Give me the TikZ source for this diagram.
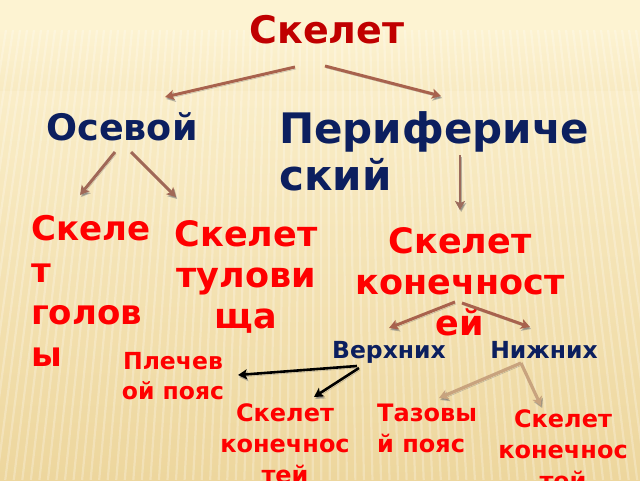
\documentclass[tikz,border=0pt]{standalone}
\usepackage{fontspec}
\setmainfont{DejaVu Sans}
\usetikzlibrary{arrows.meta,calc}
\definecolor{navy}{HTML}{0C1F5F}
\definecolor{dred}{HTML}{C00000}
\definecolor{brred}{HTML}{FF0000}
\definecolor{arrowbr}{HTML}{A8624D}
\definecolor{arrowtan}{HTML}{C8A37E}
\definecolor{bgtop}{HTML}{FDF3D2}
\definecolor{bgbot}{HTML}{EDD69D}
\tikzset{
  lbl/.style={inner sep=0pt, anchor=base, font=\bfseries},
  redtxt/.style={lbl, text=brred, align=center},
  navytxt/.style={lbl, text=navy},
  shadowed/.style={preaction={draw=black!55, opacity=0.5, transform canvas={shift={(1.2pt,-2pt)}}}},
  brarrow/.style={shadowed, draw=arrowbr, line width=3pt, -{Stealth[length=9pt,width=10pt,inset=2pt]}},
  tanarrow/.style={shadowed, draw=arrowtan, line width=3.2pt, -{Stealth[length=9pt,width=10pt,inset=2pt]}},
  blkarrow/.style={shadowed, draw=black, line width=2.6pt, -{Stealth[length=9pt,width=10pt,inset=2pt]}},
}
\begin{document}
\begin{tikzpicture}[x=1pt,y=-1pt]
\useasboundingbox (0,0) rectangle (640,480);
\shade[top color=bgtop, bottom color=bgbot] (0,0) rectangle (640,480);
\fill[bgtop] (0,0) rectangle (640,28);
\shade[top color=bgtop, bottom color=bgtop!70!bgbot] (0,28) rectangle (640,90);
\begin{scope}
\clip (0,30) rectangle (640,480);
\foreach \x in {-120,-113,...,760} {
  \draw[white, opacity=0.25, line width=2.2pt] (\x,30) -- ({\x+(\x-320)*0.22},480);
}
\end{scope}

% texts (multi-line nodes: base = baseline of last line)
\node[lbl, text=dred, font=\fontsize{38}{44}\bfseries\selectfont] (title) at (327,43) {Скелет};
\node[navytxt, font=\fontsize{36.5}{44}\bfseries\selectfont] (osev) at (122,140) {Осевой};
\node[navytxt, anchor=base west, align=left, font=\fontsize{42}{47}\bfseries\selectfont] (perif) at (279,190) {Перифериче\\ский};

\node[redtxt, anchor=base west, align=left, font=\fontsize{34}{42}\bfseries\selectfont] (head) at (31,366) {Скеле\\т\\голов\\ы};
\node[redtxt, font=\fontsize{35}{41}\bfseries\selectfont] (trunk) at (246,328) {Скелет\\тулови\\ща};
\node[redtxt, font=\fontsize{35}{41}\bfseries\selectfont] (limbs) at (460,335) {Скелет\\конечност\\ей};

\node[navytxt, font=\fontsize{23.5}{28}\bfseries\selectfont] (upper) at (389,358) {Верхних};
\node[navytxt, font=\fontsize{23.5}{28}\bfseries\selectfont] (lower) at (544,358) {Нижних};

\node[redtxt, font=\fontsize{23.5}{29.5}\bfseries\selectfont] (shoulder) at (173,399) {Плечев\\ой пояс};
\node[redtxt, font=\fontsize{24}{31}\bfseries\selectfont] (ulimb) at (285,483) {Скелет\\конечнос\\тей};
\node[redtxt, anchor=base west, align=left, font=\fontsize{24}{31}\bfseries\selectfont] (pelvis) at (377,452) {Тазовы\\й пояс};
\node[redtxt, font=\fontsize{24}{31}\bfseries\selectfont] (llimb) at (563,489) {Скелет\\конечнос\\тей};

% connector end points
\coordinate (t1) at (295,67);  \coordinate (t1e) at (165,97);
\coordinate (t2) at (325,66);  \coordinate (t2e) at (441,96);
\coordinate (o1) at (115,152); \coordinate (o1e) at (80,195);
\coordinate (o2) at (131,152); \coordinate (o2e) at (176,197);
\coordinate (p1) at (460,155); \coordinate (p1e) at (460,210);
\coordinate (l1) at (455,302); \coordinate (l1e) at (389,328);
\coordinate (l2) at (462,303); \coordinate (l2e) at (530,327);
\coordinate (u1) at (357,366); \coordinate (u1e) at (238,375);
\coordinate (u2) at (359,368); \coordinate (u2e) at (314,397);
\coordinate (n1) at (521,363); \coordinate (n1e) at (439,398);
\coordinate (n2) at (521,363); \coordinate (n2e) at (541,406);

\draw[brarrow] (t1) -- (t1e);
\draw[brarrow] (t2) -- (t2e);
\draw[brarrow, draw=arrowbr!80!gray] (o1) -- (o1e);
\draw[brarrow, draw=arrowbr!80!gray] (o2) -- (o2e);
\draw[brarrow, draw=arrowbr!70!gray, line width=2.2pt] (p1) -- (p1e);
\draw[brarrow] (l1) -- (l1e);
\draw[brarrow] (l2) -- (l2e);
\draw[blkarrow] (u1) -- (u1e);
\draw[blkarrow] (u2) -- (u2e);
\draw[tanarrow] (n1) -- (n1e);
\draw[tanarrow] (n2) -- (n2e);
\end{tikzpicture}
\end{document}
